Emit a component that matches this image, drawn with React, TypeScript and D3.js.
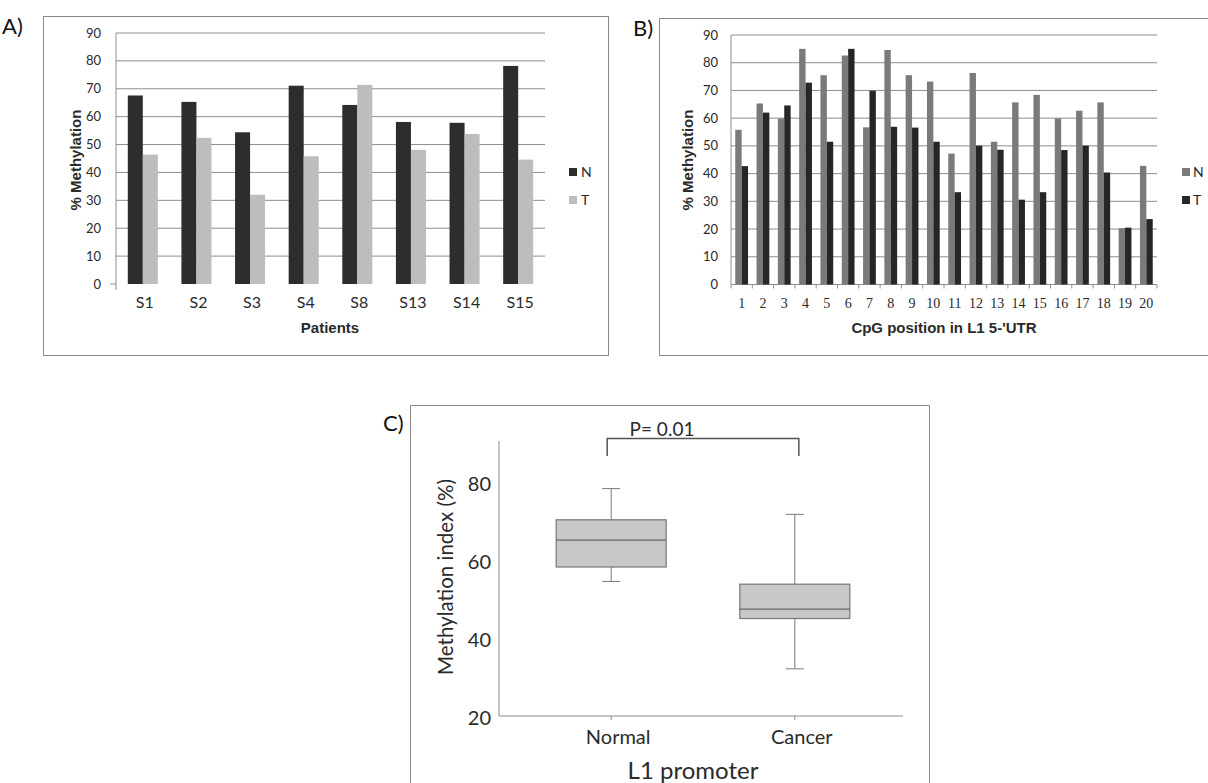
// ─ Imports ──────────────────────────────────────────────────────────────────────────────────────
import * as d3 from 'd3';
import { ReactElement } from 'react';

// ─ Data ─────────────────────────────────────────────────────────────────────────────────────────
const PATIENTS = ['S1', 'S2', 'S3', 'S4', 'S8', 'S13', 'S14', 'S15'];
const PATIENT_N = [67.6, 65.3, 54.4, 71.1, 64.2, 58.1, 57.8, 78.2];
const PATIENT_T = [46.4, 52.4, 32.0, 45.8, 71.4, 48.1, 53.8, 44.6];

const CPG_POSITIONS = ['1', '2', '3', '4', '5', '6', '7', '8', '9', '10', '11', '12', '13', '14', '15', '16', '17', '18', '19', '20'];
const CPG_N = [55.8, 65.3, 59.9, 85.0, 75.5, 82.6, 56.7, 84.6, 75.5, 73.2, 47.2, 76.3, 51.5, 65.7, 68.4, 59.9, 62.7, 65.7, 20.3, 42.8];
const CPG_T = [42.7, 62.0, 64.6, 72.8, 51.5, 85.0, 69.9, 56.9, 56.6, 51.5, 33.3, 50.1, 48.6, 30.6, 33.3, 48.5, 50.1, 40.4, 20.5, 23.6];

const PCT_TICKS = [0, 10, 20, 30, 40, 50, 60, 70, 80, 90];

const BOX_GROUPS = ['Normal', 'Cancer'];
// min, q1, median, q3, max
const BOX_STATS = [
  [55.0, 58.7, 65.6, 70.8, 78.8],
  [32.6, 45.5, 47.9, 54.3, 72.2],
];
const INDEX_TICKS = [20, 40, 60, 80];
const P_VALUE = 'P= 0.01';

// ─ Styles ───────────────────────────────────────────────────────────────────────────────────────
const CAL = 'Lato, "Open Sans", sans-serif';
const ARIAL = '"Liberation Sans", Arial, sans-serif';
const SERIF = '"Liberation Serif", "DejaVu Serif", serif';
const GRID = '#8e8e8e';
const FRAME = '#8a8a8a';
const TXT = '#2a2a2a';

// ─ Panel A ──────────────────────────────────────────────────────────────────────────────────────
const PanelA = (): ReactElement => {
  const x = d3.scaleBand().domain(PATIENTS).range([116, 545]).paddingInner(0.44).paddingOuter(0.22);
  const sub = d3.scaleBand().domain(['N', 'T']).range([0, x.bandwidth()]);
  const y = d3.scaleLinear().domain([0, 90]).range([284, 33]);

  return (
    <g>
      <rect x={43.5} y={16.5} width={565} height={339} fill="none" stroke={FRAME} />
      <text x={2} y={34} fontFamily={CAL} fontSize={22} fill="#111">A)</text>

      {PCT_TICKS.filter(t => t > 0).map(t => (
        <line key={t} x1={116} x2={545} y1={y(t)} y2={y(t)} stroke={GRID} strokeWidth={1} />
      ))}
      <line x1={116} x2={116} y1={33} y2={290} stroke={GRID} />
      <line x1={110} x2={116} y1={y(0)} y2={y(0)} stroke={GRID} />
      {PCT_TICKS.map(t => (
        <text key={t} x={101} y={y(t)} dy="0.35em" textAnchor="end" fontFamily={CAL} fontSize={13} fill={TXT}>{t}</text>
      ))}

      {PATIENTS.map((p, i) => (
        <g key={p}>
          <rect x={(x(p) ?? 0) + (sub('N') ?? 0)} y={y(PATIENT_N[i])} width={sub.bandwidth()} height={y(0) - y(PATIENT_N[i])} fill="#2d2d2d" />
          <rect x={(x(p) ?? 0) + (sub('T') ?? 0)} y={y(PATIENT_T[i])} width={sub.bandwidth()} height={y(0) - y(PATIENT_T[i])} fill="#bdbdbd" />
          <text x={(x(p) ?? 0) + x.bandwidth() / 2 + 2} y={302} dy="0.35em" textAnchor="middle" fontFamily={CAL} fontSize={16} fill={TXT}>{p}</text>
        </g>
      ))}

      <text transform="translate(76,160) rotate(-90)" textAnchor="middle" dy="0.35em" fontFamily={ARIAL} fontWeight="bold" fontSize={15} fill={TXT}>% Methylation</text>
      <text x={330} y={333} textAnchor="middle" fontFamily={ARIAL} fontWeight="bold" fontSize={15} fill={TXT}>Patients</text>

      <rect x={569} y={168} width={8} height={8} fill="#2d2d2d" />
      <text x={581} y={172} dy="0.35em" fontFamily={CAL} fontSize={14} fill={TXT}>N</text>
      <rect x={569} y={196} width={8} height={8} fill="#bdbdbd" />
      <text x={581} y={200} dy="0.35em" fontFamily={CAL} fontSize={14} fill={TXT}>T</text>
    </g>
  );
};

// ─ Panel B ──────────────────────────────────────────────────────────────────────────────────────
const PanelB = (): ReactElement => {
  const x = d3.scaleBand().domain(CPG_POSITIONS).range([731, 1157]).paddingInner(0.4).paddingOuter(0.2);
  const sub = d3.scaleBand().domain(['N', 'T']).range([0, x.bandwidth()]);
  const y = d3.scaleLinear().domain([0, 90]).range([284.5, 35]);
  const step = x.step();

  return (
    <g>
      <path d="M1210,18.5 H659.5 V355.5 H1210" fill="none" stroke={FRAME} />
      <text x={633} y={36} fontFamily={CAL} fontSize={22} fill="#111">B)</text>

      {PCT_TICKS.filter(t => t > 0).map(t => (
        <line key={t} x1={731} x2={1157} y1={y(t)} y2={y(t)} stroke={GRID} />
      ))}
      <line x1={731} x2={731} y1={35} y2={y(0)} stroke={GRID} />
      <line x1={731} x2={1157} y1={y(0)} y2={y(0)} stroke={GRID} />
      {d3.range(CPG_POSITIONS.length + 1).map(i => (
        <line key={i} x1={731 + i * step} x2={731 + i * step} y1={y(0)} y2={y(0) + 4} stroke={GRID} />
      ))}
      {PCT_TICKS.map(t => (
        <text key={t} x={718} y={y(t)} dy="0.35em" textAnchor="end" fontFamily={CAL} fontSize={13} fill={TXT}>{t}</text>
      ))}

      {CPG_POSITIONS.map((p, i) => (
        <g key={p}>
          <rect x={(x(p) ?? 0) + (sub('N') ?? 0)} y={y(CPG_N[i])} width={sub.bandwidth()} height={y(0) - y(CPG_N[i])} fill="#7a7a7a" />
          <rect x={(x(p) ?? 0) + (sub('T') ?? 0)} y={y(CPG_T[i])} width={sub.bandwidth()} height={y(0) - y(CPG_T[i])} fill="#262626" />
          <text x={(x(p) ?? 0) + x.bandwidth() / 2} y={303} dy="0.35em" textAnchor="middle" fontFamily={SERIF} fontSize={14} fill={TXT}>{p}</text>
        </g>
      ))}

      <text transform="translate(688,160) rotate(-90)" textAnchor="middle" dy="0.35em" fontFamily={ARIAL} fontWeight="bold" fontSize={15} fill={TXT}>% Methylation</text>
      <text x={944} y={333} textAnchor="middle" fontFamily={ARIAL} fontWeight="bold" fontSize={15} fill={TXT}>CpG position in L1 5-'UTR</text>

      <rect x={1182} y={168} width={8} height={8} fill="#7a7a7a" />
      <text x={1193} y={172} dy="0.35em" fontFamily={CAL} fontSize={14} fill={TXT}>N</text>
      <rect x={1182} y={196} width={8} height={8} fill="#262626" />
      <text x={1193} y={200} dy="0.35em" fontFamily={CAL} fontSize={14} fill={TXT}>T</text>
    </g>
  );
};

// ─ Panel C ──────────────────────────────────────────────────────────────────────────────────────
const PanelC = (): ReactElement => {
  const x = d3.scalePoint().domain(BOX_GROUPS).range([501, 905]).padding(0.6);
  const y = d3.scaleLinear().domain([20, 91]).range([718, 441]);
  const boxW = 110;
  const capW = 18;
  const xN = x('Normal') ?? 0;
  const xC = x('Cancer') ?? 0;

  return (
    <g>
      <path d="M410.5,790 V405.5 H929.5 V790" fill="none" stroke={FRAME} />
      <text x={383} y={431} fontFamily={CAL} fontSize={22} fill="#111">C)</text>

      <line x1={499} x2={499} y1={441} y2={716} stroke="#8a8a8a" />
      <line x1={499} x2={903} y1={716} y2={716} stroke="#8a8a8a" />
      {BOX_GROUPS.map(g => (
        <line key={g} x1={x(g) ?? 0} x2={x(g) ?? 0} y1={716} y2={720} stroke="#8a8a8a" />
      ))}
      {INDEX_TICKS.map(t => (
        <text key={t} x={491} y={y(t)} dy="0.35em" textAnchor="end" fontFamily={CAL} fontSize={20} fill={TXT}>{t}</text>
      ))}

      {BOX_GROUPS.map((g, i) => {
        const [mn, q1, md, q3, mx] = BOX_STATS[i];
        const cx = x(g) ?? 0;
        return (
          <g key={g}>
            <line x1={cx} x2={cx} y1={y(mx)} y2={y(q3)} stroke="#7a7a7a" />
            <line x1={cx} x2={cx} y1={y(q1)} y2={y(mn)} stroke="#7a7a7a" />
            <line x1={cx - capW / 2} x2={cx + capW / 2} y1={y(mx)} y2={y(mx)} stroke="#7a7a7a" />
            <line x1={cx - capW / 2} x2={cx + capW / 2} y1={y(mn)} y2={y(mn)} stroke="#7a7a7a" />
            <rect x={cx - boxW / 2} y={y(q3)} width={boxW} height={y(q1) - y(q3)} fill="#c8c8c8" stroke="#777" strokeWidth={1.2} />
            <line x1={cx - boxW / 2} x2={cx + boxW / 2} y1={y(md)} y2={y(md)} stroke="#666" strokeWidth={1.2} />
            <text x={cx + 7} y={737} dy="0.35em" textAnchor="middle" fontFamily={CAL} fontSize={20} fill={TXT}>{g}</text>
          </g>
        );
      })}

      <path d={`M${xN - 4},456 V438.5 H${xC + 4} V456`} fill="none" stroke="#555" strokeWidth={1.5} />
      <text x={662} y={436} textAnchor="middle" fontFamily={CAL} fontSize={19} fill={TXT}>{P_VALUE}</text>

      <text transform="translate(446,577) rotate(-90)" textAnchor="middle" dy="0.35em" fontFamily={CAL} fontSize={20.5} fill={TXT}>Methylation index (%)</text>
      <text x={693} y={779} textAnchor="middle" fontFamily={CAL} fontSize={24} fill={TXT}>L1 promoter</text>
    </g>
  );
};

// ─ App ──────────────────────────────────────────────────────────────────────────────────────────
const App = (): ReactElement => (
  <svg width={1208} height={783} style={{ position: 'absolute', left: 0, top: 0, background: '#fff' }}>
    <rect width={1208} height={783} fill="#fff" />
    <PanelA />
    <PanelB />
    <PanelC />
  </svg>
);

export default App;
